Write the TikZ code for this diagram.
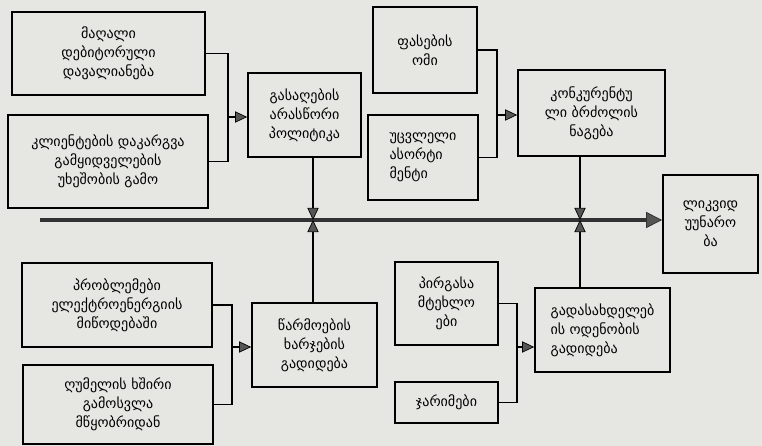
\documentclass[tikz,border=0pt]{standalone}
\usepackage{fontspec}
\setmainfont{DejaVu Sans}
\usepackage{xcolor}
\usetikzlibrary{positioning,calc,arrows.meta}
\definecolor{paper}{RGB}{230,230,226}
\definecolor{tipgray}{RGB}{85,85,85}
\definecolor{spinegray}{RGB}{50,50,50}

\begin{document}
\begin{tikzpicture}[x=0.025cm,y=-0.025cm,
    cause/.style={draw, rectangle, line width=1.2pt, align=center, inner sep=2pt,
        font=\fontsize{10}{13.5}\selectfont},
    link/.style={line width=0.8pt},
    feed/.style={line width=0.8pt, -{Triangle[length=3mm,width=2.8mm,fill=tipgray,line width=0.5pt]}},
    spine/.style={line width=3.5pt, draw=spinegray, -{Triangle[length=4mm,width=4mm,fill=tipgray,line width=0.5pt]}}]

    % background
    \fill[paper] (0,0) rectangle (762,446);
    \useasboundingbox (0,0) rectangle (762,446);

    % upper causes
    \node [cause, minimum width=4.825cm, minimum height=2.075cm] (debt) at (108.5,53.5) {მაღალი\\დებიტორული\\დავალიანება};
    \node [cause, minimum width=5cm, minimum height=2.325cm] (clients) at (108,161.5) {კლიენტების დაკარგვა\\გამყიდველების\\უხეშობის გამო};
    \node [cause, minimum width=2.825cm, minimum height=2.1cm] (sales) at (304.5,115) {გასაღების\\არასწორი\\პოლიტიკა};
    \node [cause, minimum width=2.6cm, minimum height=2.15cm] (price) at (425,50) {ფასების\\ომი};
    \node [cause, align=left, minimum width=2.75cm, minimum height=2.125cm] (assort) at (423,157.5) {უცვლელი\\ასორტი\\მენტი};
    \node [cause, minimum width=3.675cm, minimum height=2.15cm] (compet) at (591.5,113) {კონკურენტუ\\ლი ბრძოლის\\ნაგება};

    % effect
    \node [cause, minimum width=2.375cm, minimum height=2.45cm] (illiq) at (710.5,224) {ლიკვიდ\\უუნარო\\ბა};

    % lower causes
    \node [cause, minimum width=4.75cm, minimum height=2.1cm] (power) at (117,305) {პრობლემები\\ელექტროენერგიის\\მიწოდებაში};
    \node [cause, minimum width=4.75cm, minimum height=1.975cm] (furnace) at (118,404.5) {ღუმელის ხშირი\\გამოსვლა\\მწყობრიდან};
    \node [cause, minimum width=3.125cm, minimum height=2.1cm] (costs) at (314.5,345) {წარმოების\\ხარჯების\\გადიდება};
    \node [cause, minimum width=2.575cm, minimum height=2.075cm] (penalty) at (446.5,303.5) {პირგასა\\მტეხლო\\ები};
    \node [cause, minimum width=2.575cm, minimum height=1.025cm] (fines) at (446.5,402.5) {ჯარიმები};
    \node [cause, align=left, minimum width=3.375cm, minimum height=2.1cm] (payable) at (602.5,330) {გადასახდელებ\\ის ოდენობის\\გადიდება};

    % spine
    \coordinate (tail) at (40,220);
    \coordinate (j1) at (313,220);
    \coordinate (j2) at (580,220);
    \draw[spine] (tail) -- (tail -| illiq.west);

    % branches
    \coordinate (k1) at (228,117);
    \coordinate (k2) at (497,115);
    \coordinate (k3) at (232,347);
    \coordinate (k4) at (517,347);
    \draw[link] (debt.east) -- (debt.east -| k1) -- (clients.east -| k1) -- (clients.east);
    \draw[feed] (k1) -- (k1 -| sales.west);
    \draw[link] (price.east) -- (price.east -| k2) -- (assort.east -| k2) -- (assort.east);
    \draw[feed] (k2) -- (k2 -| compet.west);
    \draw[link] (power.east) -- (power.east -| k3) -- (furnace.east -| k3) -- (furnace.east);
    \draw[feed] (k3) -- (k3 -| costs.west);
    \draw[link] (penalty.east) -- (penalty.east -| k4) -- (fines.east -| k4) -- (fines.east);
    \draw[feed] (k4) -- (k4 -| payable.west);

    \draw[feed] (sales.south -| j1) -- (j1);
    \draw[feed] (costs.north -| j1) -- (j1);
    \draw[feed] (compet.south -| j2) -- (j2);
    \draw[feed] (payable.north -| j2) -- (j2);
\end{tikzpicture}
\end{document}
